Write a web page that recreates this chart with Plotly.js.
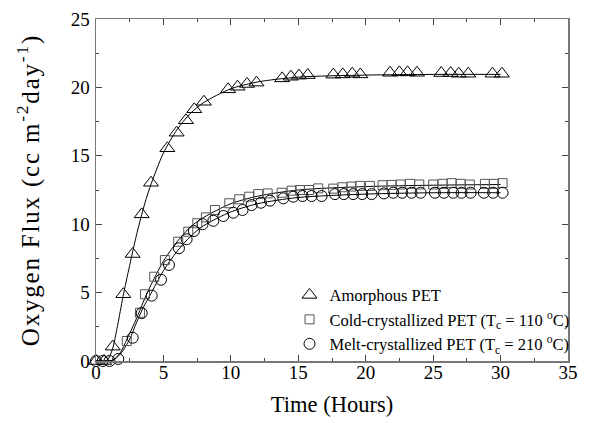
<!DOCTYPE html>
<html>
<head>
<meta charset="utf-8">
<script src="https://cdn.plot.ly/plotly-3.0.1.min.js"></script>
<style>html,body{margin:0;padding:0;background:#fff;}#chart{width:589px;height:423px;}
.ytitle{letter-spacing:1.8px;}</style>
</head>
<body>
<div id="chart"></div>
<script>
// Amorphous PET (triangles)
const amorphT = [0, 0.6, 1.24, 2.02, 2.72, 3.39, 4.08, 5.29, 5.98, 6.67, 7.29, 8.0, 9.8, 10.5, 11.2, 11.9, 13.8, 14.45, 15.05, 15.7, 17.6, 18.3, 19.0, 19.6, 21.8, 22.5, 23.1, 23.8, 25.6, 26.3, 26.9, 27.6, 29.4, 30.1];
const amorphV = [0, 0, 1.05, 4.88, 7.82, 10.72, 13.03, 15.55, 16.69, 17.6, 18.4, 18.95, 19.86, 20.05, 20.25, 20.35, 20.66, 20.78, 20.86, 20.9, 20.93, 20.95, 21.0, 20.95, 21.07, 21.1, 21.1, 21.07, 21.05, 21.05, 21.0, 21.0, 21.0, 21.0];
// Cold-crystallized PET (squares)
const coldT = [2.28, 3.26, 3.63, 4.32, 5.11, 6.1, 6.84, 7.51, 8.15, 8.82, 9.88, 10.62, 11.36, 12.03, 12.73, 13.77, 14.51, 15.12, 15.79, 16.48, 17.59, 18.26, 18.95, 19.57, 20.31, 21.25, 21.92, 22.59, 23.28, 23.97, 25.0, 25.7, 26.37, 27.04, 27.72, 28.84, 29.5, 30.15];
const coldV = [1.46, 3.53, 4.88, 6.16, 7.38, 8.72, 9.45, 10.07, 10.5, 11.04, 11.53, 11.82, 12.01, 12.2, 12.25, 12.3, 12.45, 12.5, 12.5, 12.62, 12.6, 12.7, 12.75, 12.8, 12.8, 12.85, 12.87, 12.9, 12.95, 12.9, 12.9, 12.95, 13.0, 12.95, 12.9, 12.95, 12.95, 13.0];
// Melt-crystallized PET (circles)
const meltT = [0, 0.5, 1.0, 1.65, 2.72, 3.39, 4.13, 4.82, 5.41, 6.15, 6.72, 7.26, 7.9, 8.7, 9.44, 10.18, 10.87, 11.54, 12.23, 12.9, 13.89, 14.63, 15.32, 15.99, 16.73, 17.72, 18.38, 19.07, 19.74, 20.44, 21.35, 22.04, 22.7, 23.4, 24.07, 25.13, 25.8, 26.49, 27.11, 27.78, 28.76, 29.45, 30.15];
const meltV = [0, 0, 0, 0.15, 1.7, 3.5, 4.78, 5.94, 7.02, 8.24, 8.9, 9.5, 10.0, 10.25, 10.6, 10.84, 11.04, 11.4, 11.57, 11.72, 11.89, 12.01, 12.06, 12.06, 12.06, 12.2, 12.2, 12.2, 12.2, 12.2, 12.25, 12.3, 12.3, 12.3, 12.3, 12.3, 12.3, 12.3, 12.3, 12.3, 12.3, 12.3, 12.3];
// Fitted curves
const fitAT = [0, 0.8, 1.2, 1.6, 2.0, 2.5, 3.0, 3.5, 4.0, 5.0, 6.0, 7.0, 8.0, 10.0, 12.0, 15.0, 20.0, 25.0, 30.0];
const fitAV = [0, 0.05, 0.8, 2.6, 4.7, 7.0, 9.2, 11.1, 12.7, 15.2, 16.9, 18.1, 18.9, 19.9, 20.4, 20.75, 20.9, 20.95, 20.95];
const fitCT = [0, 1.2, 1.8, 2.3, 3.0, 3.5, 4.0, 5.0, 6.0, 7.0, 8.0, 10.0, 12.0, 15.0, 20.0, 25.0, 30.0];
const fitCV = [0, 0.05, 0.6, 1.6, 3.1, 4.3, 5.4, 7.3, 8.7, 9.8, 10.5, 11.5, 12.05, 12.5, 12.75, 12.85, 12.9];
const fitMT = [0, 1.2, 1.8, 2.5, 3.0, 3.5, 4.0, 5.0, 6.0, 7.0, 8.0, 10.0, 12.0, 15.0, 20.0, 25.0, 30.0];
const fitMV = [0, 0.05, 0.5, 1.6, 2.8, 3.9, 4.8, 6.6, 8.0, 9.1, 9.9, 10.9, 11.5, 11.95, 12.2, 12.3, 12.3];

const legendNames = ['Amorphous PET', 'Cold-crystallized PET (T<sub>c</sub> = 110 <sup>o</sup>C)', 'Melt-crystallized PET (T<sub>c</sub> = 210 <sup>o</sup>C)'];

const fitLine = {color: '#000', width: 1, shape: 'spline', smoothing: 0.8};
const traces = [
  {x: fitAT, y: fitAV, mode: 'lines', line: fitLine, showlegend: false, hoverinfo: 'skip'},
  {x: fitCT, y: fitCV, mode: 'lines', line: fitLine, showlegend: false, hoverinfo: 'skip'},
  {x: fitMT, y: fitMV, mode: 'lines', line: fitLine, showlegend: false, hoverinfo: 'skip'},
  {x: amorphT, y: amorphV, mode: 'markers', name: legendNames[0], cliponaxis: false,
   marker: {symbol: 'triangle-up-open', size: 13, color: '#000', line: {width: 1, color: '#000'}}},
  {x: coldT, y: coldV, mode: 'markers', name: legendNames[1], cliponaxis: false,
   marker: {symbol: 'square-open', size: 9, color: '#555', line: {width: 1, color: '#555'}}},
  {x: meltT, y: meltV, mode: 'markers', name: legendNames[2], cliponaxis: false,
   marker: {symbol: 'circle-open', size: 11, color: '#000', line: {width: 1, color: '#000'}}}
];

const axisCommon = {
  showline: true, linecolor: '#777', linewidth: 1.5, mirror: 'allticks',
  ticks: 'inside', ticklen: 6, tickcolor: '#444', tickwidth: 1,
  showgrid: false, zeroline: false,
  tickfont: {family: 'Liberation Serif', size: 19, color: '#000'},
  minor: {ticks: 'inside', ticklen: 3, tickcolor: '#444', dtick: 2.5, showgrid: false}
};

const layout = {
  width: 589, height: 423,
  margin: {l: 96, r: 21, t: 19, b: 62},
  paper_bgcolor: '#fff', plot_bgcolor: '#fff',
  font: {family: 'Liberation Serif', color: '#000'},
  xaxis: Object.assign({}, axisCommon, {range: [0, 35], dtick: 5, tick0: 0, ticklabelstandoff: -6,
    title: {text: 'Time (Hours)', font: {family: 'Liberation Serif', size: 22.5, color: '#000'}, standoff: 14}}),
  yaxis: Object.assign({}, axisCommon, {range: [0, 25], dtick: 5, tick0: 0, ticklabelstandoff: 1,
    title: {text: 'Oxygen Flux (cc m<sup>-2</sup>day<sup>-1</sup>)', font: {family: 'Liberation Serif', size: 25, color: '#000'}, standoff: 24}}),
  showlegend: true,
  legend: {x: 0.41, y: -0.002, xanchor: 'left', yanchor: 'bottom', bgcolor: 'rgba(0,0,0,0)',
    font: {family: 'Liberation Serif', size: 16.5, color: '#000'}, itemwidth: 30, tracegroupgap: 0}
};

Plotly.newPlot('chart', traces, layout, {displayModeBar: false, staticPlot: true});
</script>
</body>
</html>
